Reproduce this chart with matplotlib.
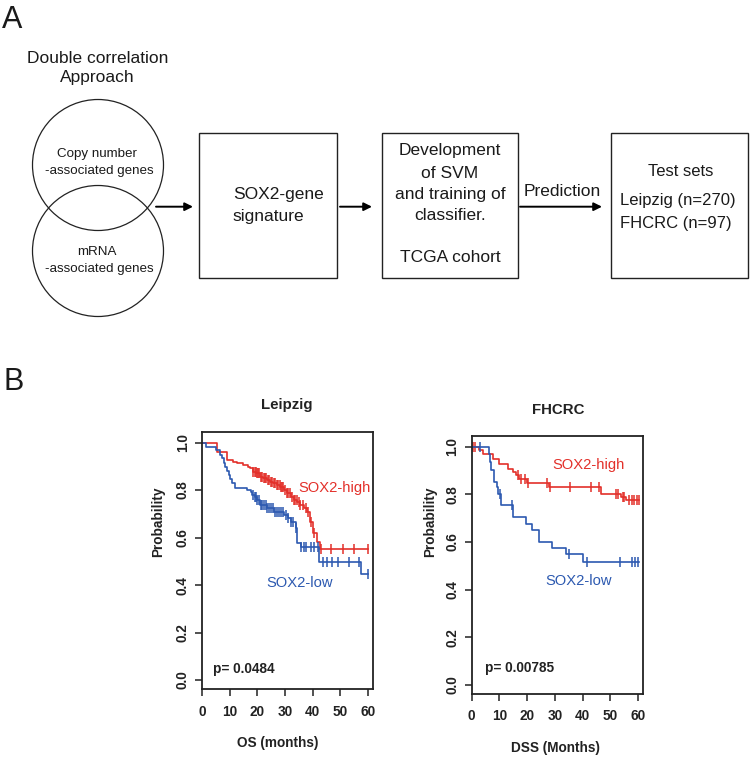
import numpy as np
import matplotlib
matplotlib.use("Agg")
import matplotlib.pyplot as plt
from matplotlib.patches import Circle, Rectangle

plt.rcParams['font.family'] = ['Liberation Sans', 'DejaVu Sans']

RED = '#e3302a'
BLUE = '#2c59b0'

# Leipzig (OS) - Kaplan-Meier steps
leip_high_t = [5.2, 9.1, 11.0, 12.5, 14.9, 16.5, 17.3, 18.5, 19.5, 20.9, 22.0, 23.3, 24.5, 25.8,
               27.0, 28.2, 29.5, 30.6, 32.0, 33.1, 34.5, 35.5, 36.8, 37.9, 39.1, 40.3, 41.5, 42.7]
leip_high_s = [0.962, 0.927, 0.920, 0.913, 0.906, 0.899, 0.892, 0.878, 0.870, 0.857, 0.850, 0.843,
               0.836, 0.829, 0.822, 0.815, 0.801, 0.787, 0.772, 0.758, 0.748, 0.737, 0.723, 0.709,
               0.667, 0.618, 0.583, 0.551]
leip_high_cens = [18.5, 19.0, 19.3, 19.8, 20.2, 20.7, 21.2, 21.8, 22.3, 22.7, 23.2, 23.8, 24.3, 24.8,
                  25.3, 25.9, 26.4, 27.0, 27.5, 28.0, 28.5, 29.0, 29.4, 30.0, 30.6, 31.2, 31.8, 32.5,
                  33.2, 33.8, 34.4, 35.0, 35.6, 36.5, 37.5, 38.5, 39.5, 40.5, 43.0, 46.6, 50.9, 55.1, 60.0]

leip_low_t = [1.2, 4.9, 6.4, 7.1, 7.9, 8.4, 9.0, 9.6, 10.2, 10.8, 12.0, 16.2, 17.5, 18.1, 19.0, 20.0,
              21.1, 23.5, 26.0, 29.6, 31.0, 32.0, 33.9, 34.5, 35.7, 42.3, 57.6]
leip_low_s = [0.983, 0.969, 0.948, 0.934, 0.915, 0.899, 0.880, 0.864, 0.846, 0.829, 0.808, 0.801,
              0.790, 0.780, 0.770, 0.758, 0.737, 0.724, 0.709, 0.695, 0.681, 0.667, 0.639, 0.576,
              0.562, 0.496, 0.445]
leip_low_cens = [18.5, 19.0, 19.5, 20.0, 20.6, 21.2, 21.8, 22.4, 23.0, 23.6, 24.2, 24.8, 25.5, 26.2,
                 27.0, 27.8, 28.5, 29.3, 30.2, 31.0, 32.0, 33.0, 34.0, 35.7, 36.8, 37.5, 39.3, 40.4,
                 41.8, 43.6, 45.4, 47.2, 49.1, 53.3, 56.9, 60.0]

# FHCRC (DSS)
fh_high_t = [2.8, 4.0, 7.6, 10.0, 13.0, 14.9, 16.0, 17.2, 19.8, 28.0, 46.6, 54.0, 55.5]
fh_high_s = [0.986, 0.972, 0.951, 0.930, 0.909, 0.895, 0.881, 0.867, 0.849, 0.830, 0.804, 0.790, 0.776]
fh_high_cens = [0.4, 1.2, 16.8, 17.7, 19.2, 20.2, 27.1, 28.3, 35.6, 42.9, 46.1, 52.0, 52.8, 54.6,
                55.1, 56.8, 57.7, 58.6, 59.6, 60.5]

fh_low_t = [6.1, 6.6, 7.0, 8.2, 9.0, 9.6, 10.5, 15.0, 19.6, 21.8, 24.4, 29.0, 34.1, 40.1]
fh_low_s = [0.972, 0.937, 0.902, 0.853, 0.830, 0.804, 0.755, 0.706, 0.678, 0.650, 0.601, 0.573,
            0.549, 0.517]
fh_low_cens = [3.1, 10.1, 14.6, 35.0, 41.5, 53.6, 57.8, 59.0, 60.0]

y_ticks = [0.0, 0.2, 0.4, 0.6, 0.8, 1.0]
x_ticks = [0, 10, 20, 30, 40, 50, 60]

W, H = 750, 757
fig = plt.figure(figsize=(W / 100, H / 100), dpi=100)


def box(x0, y0, x1, y1):
    # pixel box (top-left origin) -> figure fraction rect
    return [x0 / W, 1 - y1 / H, (x1 - x0) / W, (y1 - y0) / H]


def ftext(x, y, s, **kw):
    fig.text(x / W, 1 - y / H, s, **kw)


# ---------- panel A: flow diagram ----------
bg = fig.add_axes([0, 0, 1, 1])
bg.set_xlim(0, W)
bg.set_ylim(H, 0)
bg.axis('off')

bg.add_patch(Circle((98, 165), 65.5, fill=False, lw=0.9, ec='#222222'))
bg.add_patch(Circle((98, 251), 65.5, fill=False, lw=0.9, ec='#222222'))
for x0, x1 in [(199.3, 336.7), (381.7, 518.3), (611, 748.3)]:
    bg.add_patch(Rectangle((x0, 133.3), x1 - x0, 145, fill=False, lw=1.0, ec='#222222'))
for x0, x1 in [(156, 193), (340, 372), (520, 602)]:
    bg.annotate('', xy=(x1, 206.7), xytext=(x0, 206.7),
                arrowprops=dict(arrowstyle='-|>', lw=1.4, color='black', mutation_scale=12,
                                shrinkA=0, shrinkB=0))

tc = '#1a1a1a'
bg.text(2, 28.3, 'A', fontsize=22, color=tc, va='baseline', ha='left')
bg.text(3, 390, 'B', fontsize=22, color=tc, va='baseline', ha='left')
bg.text(97.5, 58.3, 'Double correlation', fontsize=12.5, ha='center', va='center', color=tc)
bg.text(97.5, 77.3, 'Approach', fontsize=12.5, ha='center', va='center', color=tc)
bg.text(97, 154, 'Copy number', fontsize=9.6, ha='center', va='center', color=tc)
bg.text(99, 170.7, '-associated genes', fontsize=9.6, ha='center', va='center', color=tc)
bg.text(97, 251.7, 'mRNA', fontsize=9.6, ha='center', va='center', color=tc)
bg.text(99, 269.3, '-associated genes', fontsize=9.6, ha='center', va='center', color=tc)
bg.text(232.7, 195, 'SOX2-gene', fontsize=12.5, ha='left', va='center', color=tc)
bg.text(232.7, 216, 'signature', fontsize=12.5, ha='left', va='center', color=tc)
for yy, s in zip([151, 173, 195, 215, 257],
                 ['Development', 'of SVM', 'and training of', 'classifier.', 'TCGA cohort']):
    bg.text(450, yy, s, fontsize=12.5, ha='center', va='center', color=tc)
bg.text(562, 191.7, 'Prediction', fontsize=12.5, ha='center', va='center', color=tc)
bg.text(680.8, 171.7, 'Test sets', fontsize=12, ha='center', va='center', color=tc)
bg.text(619.5, 200, 'Leipzig (n=270)', fontsize=12, ha='left', va='center', color=tc)
bg.text(619.5, 223.3, 'FHCRC (n=97)', fontsize=12, ha='left', va='center', color=tc)


# ---------- panel B: Kaplan-Meier curves ----------
def step_value(times, surv, t):
    idx = np.searchsorted(times, t, side='right')
    return np.concatenate([[1.0], surv])[idx]


def km(ax, times, surv, cens, color, t_end):
    times = np.array(times)
    surv = np.array(surv)
    tt = np.concatenate([[0], times, [t_end]])
    ss = np.concatenate([[1.0], surv, [surv[-1]]])
    ax.step(tt, ss, where='post', color=color, lw=1.2)
    cens = np.array(cens)
    ax.plot(cens, step_value(times, surv, cens), ls='none', marker='|',
            ms=7, mew=1.1, color=color)


def style(ax, xmax):
    ax.set_xlim(0, xmax)
    ax.set_ylim(-0.039, 1.046)
    ax.set_xticks(x_ticks)
    ax.set_xticklabels([str(v) for v in x_ticks], fontsize=9.8, fontweight='bold', color='#222222')
    ax.set_yticks(y_ticks)
    ax.set_yticklabels(['%.1f' % v for v in y_ticks], fontsize=9.8, fontweight='bold',
                       color='#222222', rotation=90, va='center')
    ax.tick_params(axis='both', direction='out', length=5, width=1.1, color='#222222')
    ax.tick_params(axis='x', pad=6)
    ax.tick_params(axis='y', pad=4)
    for sp in ax.spines.values():
        sp.set_linewidth(1.3)
        sp.set_color('#222222')


ax1 = fig.add_axes(box(202.3, 431.7, 372.7, 689.3))
km(ax1, leip_high_t, leip_high_s, leip_high_cens, RED, 60.0)
km(ax1, leip_low_t, leip_low_s, leip_low_cens, BLUE, 60.0)
style(ax1, 61.8)
ax1.text(48.0, 0.809, 'SOX2-high', color=RED, fontsize=10.6, ha='center', va='center')
ax1.text(35.3, 0.41, 'SOX2-low', color=BLUE, fontsize=10.6, ha='center', va='center')
ax1.text(3.8, 0.045, 'p= 0.0484', fontsize=9.8, fontweight='bold', ha='left', va='center',
         color='#222222')

ax2 = fig.add_axes(box(471.7, 436, 643, 694))
km(ax2, fh_high_t, fh_high_s, fh_high_cens, RED, 60.5)
km(ax2, fh_low_t, fh_low_s, fh_low_cens, BLUE, 60.5)
style(ax2, 61.8)
ax2.text(42.0, 0.923, 'SOX2-high', color=RED, fontsize=10.6, ha='center', va='center')
ax2.text(38.6, 0.438, 'SOX2-low', color=BLUE, fontsize=10.6, ha='center', va='center')
ax2.text(4.9, 0.07, 'p= 0.00785', fontsize=9.8, fontweight='bold', ha='left', va='center',
         color='#222222')

lab = dict(fontsize=9.8, fontweight='bold', ha='center', va='center', color='#222222')
ftext(286.7, 405, 'Leipzig', **dict(lab, fontsize=10.8))
ftext(558.3, 410, 'FHCRC', **dict(lab, fontsize=10.8))
ftext(158, 522, 'Probability', rotation=90, **lab)
ftext(430, 522, 'Probability', rotation=90, **lab)
ftext(278, 743, 'OS (months)', **lab)
ftext(555, 748, 'DSS (Months)', **lab)

fig.savefig('out.png', dpi=100)
